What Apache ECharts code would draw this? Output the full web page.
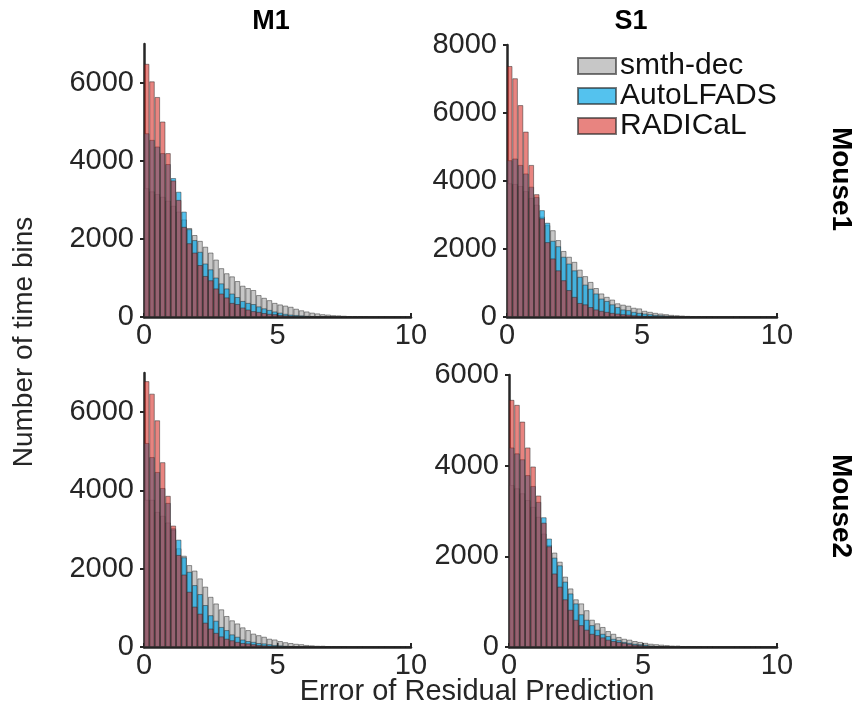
<!DOCTYPE html>
<html>
<head>
<meta charset="utf-8">
<script src="https://cdn.jsdelivr.net/npm/echarts@6/dist/echarts.min.js"></script>
<style>
html,body{margin:0;padding:0;background:#fff;}
#chart{width:856px;height:714px;}
</style>
</head>
<body>
<div id="chart"></div>
<script>
// ---- data ----
const seriesNames = ['smth-dec', 'AutoLFADS', 'RADICaL'];
const columnTitles = ['M1', 'S1'];
const rowTitles = ['Mouse1', 'Mouse2'];
const xTickValues = [0, 5, 10];
const binWidth = 0.2;
const nBins = 50;
const binStarts = Array.from({length: nBins}, (_, i) => (i * binWidth).toFixed(1));

function pad(arr) { const a = arr.slice(); while (a.length < nBins) a.push(0); return a; }

// Panel M1 / Mouse1
const m1mouse1_smth = pad([3300,3220,3150,3080,2980,2850,2700,2500,2280,2100,1950,1800,1650,1470,1250,1120,1040,920,800,740,690,560,490,430,360,320,290,260,210,170,140,110,90,70,60,45,40,30,20,20,10,10,5,5]);
const m1mouse1_auto = pad([4710,4540,4370,4200,3920,3560,3210,2700,2250,1970,1670,1370,1220,1010,860,730,600,510,410,360,330,270,220,180,140,110,80,60,50,40,30,20,15,10,8,5,3]);
const m1mouse1_radi = pad([6490,6040,5640,5010,4200,3500,3000,2310,1890,1650,1330,1050,940,730,600,500,360,330,240,190,150,130,100,80,70,50,40,30,20,20,10,10,5,5]);

// Panel S1 / Mouse1
const s1mouse1_smth = pad([3930,3910,3850,3700,3500,3300,2950,2700,2550,2260,1940,1770,1620,1390,1200,1030,850,690,590,510,400,360,330,270,250,180,150,120,100,80,60,50,40,30,20,20,10,10,5]);
const s1mouse1_auto = pad([4610,4660,4470,4220,3830,3530,3140,2770,2240,2080,1770,1570,1370,1180,950,830,690,540,470,370,290,220,200,150,120,100,80,60,50,40,30,20,15,10,5,5]);
const s1mouse1_radi = pad([7380,7020,6230,5450,4470,3610,2900,2200,1720,1370,1080,790,590,410,370,290,220,180,150,120,100,80,70,50,40,30,25,20,15,10,10,5]);

// Panel M1 / Mouse2
const m1mouse2_smth = pad([3760,3760,3450,3350,3180,2990,2520,2330,2090,1950,1750,1540,1280,1110,960,790,680,600,500,430,340,300,260,210,190,150,120,100,80,70,50,40,30,30,20,20,10,10,5]);
const m1mouse2_auto = pad([5210,4850,4470,4060,3680,3030,2740,2290,1920,1580,1350,1070,810,670,510,430,320,260,190,150,130,100,90,70,50,40,30,20,15,10,5,5]);
const m1mouse2_radi = pad([6790,6470,5790,4720,3860,3100,2350,1850,1410,1030,850,620,470,360,270,210,170,130,100,90,70,50,40,30,20,15,10,10,5]);

// Panel S1 / Mouse2
const s1mouse2_smth = pad([3570,3500,3390,3240,3090,2870,2500,2250,2080,1880,1550,1290,1050,960,810,600,520,440,350,290,220,180,160,130,110,90,70,60,50,40,30,30,20,20,10,10]);
const s1mouse2_auto = pad([4400,4270,4140,3790,3550,3200,2860,2390,1970,1800,1440,1180,960,720,600,480,380,290,240,180,150,110,90,70,60,50,30,20,15,10,5]);
const s1mouse2_radi = pad([5450,5340,4970,4400,3980,3340,2740,2220,1620,1330,1050,820,600,480,380,290,260,210,160,130,110,90,70,50,40,30,20,15,10,5]);

const panelData = [
  [m1mouse1_smth, m1mouse1_auto, m1mouse1_radi],
  [s1mouse1_smth, s1mouse1_auto, s1mouse1_radi],
  [m1mouse2_smth, m1mouse2_auto, m1mouse2_radi],
  [s1mouse2_smth, s1mouse2_auto, s1mouse2_radi]
];
const yMax = [7000, 8000, 7000, 6000];
const yTicks = [
  [0, 2000, 4000, 6000],
  [0, 2000, 4000, 6000, 8000],
  [0, 2000, 4000, 6000],
  [0, 2000, 4000, 6000]
];

// ---- layout / style ----
const grids = [
  {left: 144, top: 44, width: 267, height: 273},
  {left: 507, top: 45, width: 270, height: 272},
  {left: 144, top: 373, width: 267, height: 274},
  {left: 509, top: 375, width: 268, height: 272}
];
const fills = ['rgba(172,172,172,0.68)', 'rgba(18,170,232,0.72)', 'rgba(214,36,28,0.56)'];
const borders = 'rgba(35,35,35,0.6)';
const axisColor = '#262626';
const FONT = '"Liberation Sans", Arial, Helvetica, sans-serif';

const option = {
  animation: false,
  backgroundColor: '#fff',
  grid: grids.map(g => Object.assign({containLabel: false}, g)),
  xAxis: [],
  yAxis: [],
  series: [],
  legend: {
    data: seriesNames,
    orient: 'vertical',
    left: 572,
    top: 46,
    itemWidth: 38,
    itemHeight: 16,
    itemGap: 0,
    icon: 'rect',
    textStyle: {fontSize: 30, fontFamily: FONT, color: '#111', lineHeight: 28, padding: [0, 0, 0, -1]},
    selectedMode: false
  },
  graphic: []
};

grids.forEach((g, p) => {
  option.xAxis.push({
    type: 'category', gridIndex: p, data: binStarts, boundaryGap: true,
    show: false
  });
  option.xAxis.push({
    type: 'value', gridIndex: p, min: 0, max: 10, interval: 5,
    position: 'bottom',
    axisLine: {show: true, lineStyle: {color: axisColor, width: 2.5}},
    axisTick: {show: true, inside: true, length: 4, lineStyle: {color: axisColor, width: 2}},
    splitLine: {show: false},
    axisLabel: {fontSize: 29, fontFamily: FONT, color: axisColor, margin: 4}
  });
  option.yAxis.push({
    type: 'value', gridIndex: p, min: 0, max: yMax[p],
    axisLine: {show: true, lineStyle: {color: axisColor, width: 2.5}},
    axisTick: {show: true, length: 4, customValues: yTicks[p], lineStyle: {color: axisColor, width: 2}},
    splitLine: {show: false},
    axisLabel: {fontSize: 29, fontFamily: FONT, color: axisColor, margin: 10, customValues: yTicks[p],
      formatter: v => String(v)}
  });
  panelData[p].forEach((arr, s) => {
    option.series.push({
      name: seriesNames[s],
      type: 'bar',
      xAxisIndex: p * 2,
      yAxisIndex: p,
      data: arr,
      barGap: '-100%',
      barCategoryGap: '0%',
      itemStyle: {color: fills[s], borderColor: borders, borderWidth: 0.8},
      emphasis: {disabled: true},
      z: 2 + s
    });
  });
});

option.graphic = [
  {type: 'text', x: 271, y: 22, style: {text: columnTitles[0], font: 'bold 27px ' + FONT, fill: '#000', textAlign: 'center', textVerticalAlign: 'middle'}},
  {type: 'text', x: 631, y: 22, style: {text: columnTitles[1], font: 'bold 27px ' + FONT, fill: '#000', textAlign: 'center', textVerticalAlign: 'middle'}},
  {type: 'text', x: 841, y: 179, rotation: -Math.PI / 2, style: {text: rowTitles[0], font: 'bold 28px ' + FONT, fill: '#000', textAlign: 'center', textVerticalAlign: 'middle'}},
  {type: 'text', x: 841, y: 506, rotation: -Math.PI / 2, style: {text: rowTitles[1], font: 'bold 28px ' + FONT, fill: '#000', textAlign: 'center', textVerticalAlign: 'middle'}},
  {type: 'text', x: 24, y: 342, rotation: Math.PI / 2, style: {text: 'Number of time bins', font: '28px ' + FONT, fill: '#262626', textAlign: 'center', textVerticalAlign: 'middle'}},
  {type: 'text', x: 477, y: 692, style: {text: 'Error of Residual Prediction', font: '29px ' + FONT, fill: '#262626', textAlign: 'center', textVerticalAlign: 'middle'}}
];

const chart = echarts.init(document.getElementById('chart'), null, {renderer: 'canvas'});
chart.setOption(option);
</script>
</body>
</html>
